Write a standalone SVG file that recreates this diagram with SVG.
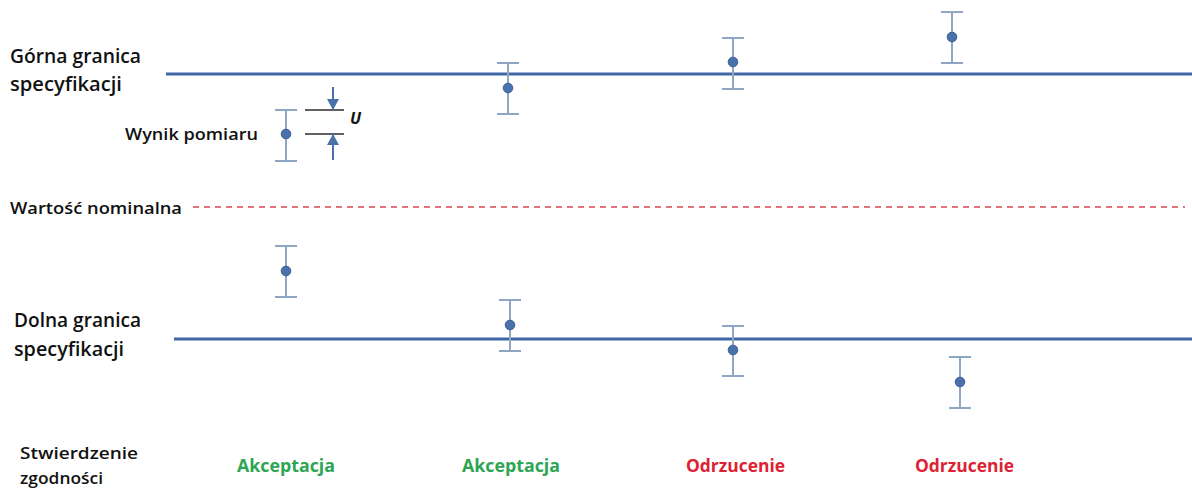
<svg xmlns="http://www.w3.org/2000/svg" width="1192" height="491" viewBox="0 0 1192 491">
<style>
.lbl{font-family:"Open Sans","Liberation Sans",sans-serif;font-weight:600;fill:#111}
.big{font-size:19.5px}
.sm{font-size:17px}
.lim{stroke:#3f67a6;stroke-width:3;fill:none}
.bar{stroke:#8fa6c4;stroke-width:2;fill:none}
.dot{fill:#4a71a9;stroke:#3a5f96;stroke-width:1}
.acc{font-family:"Open Sans","Liberation Sans",sans-serif;font-weight:700;font-size:17px;fill:#2ea552}
.rej{font-family:"Open Sans","Liberation Sans",sans-serif;font-weight:700;font-size:17px;fill:#dd2233}
.blk{stroke:#2a2a2a;stroke-width:1.6}
.arr{stroke:#4a71a9;stroke-width:2;marker-end:url(#ah)}
</style>
<defs>
<marker id="ah" viewBox="0 0 10 10" refX="10" refY="5" markerWidth="5.5" markerHeight="6" orient="auto" preserveAspectRatio="none">
<path d="M0,0 L10,5 L0,10 z" fill="#4a71a9"/>
</marker>
</defs>
<g id="limits">
<line id="usl" class="lim" x1="166" y1="74" x2="1192" y2="74"/>
<line id="lsl" class="lim" x1="174" y1="339" x2="1192" y2="339"/>
<line id="nominal" x1="193" y1="207" x2="1185" y2="207" stroke="#d9464f" stroke-width="1.5" stroke-dasharray="6,5"/>
</g>
<g id="labels">
<text class="lbl big" x="10" y="63" textLength="131" lengthAdjust="spacingAndGlyphs">Górna granica</text>
<text class="lbl big" x="10" y="91" textLength="112" lengthAdjust="spacingAndGlyphs">specyfikacji</text>
<text class="lbl sm" x="125" y="140" textLength="133" lengthAdjust="spacingAndGlyphs">Wynik pomiaru</text>
<text class="lbl sm" x="10" y="214" textLength="172" lengthAdjust="spacingAndGlyphs">Wartość nominalna</text>
<text class="lbl big" x="14" y="327" textLength="127" lengthAdjust="spacingAndGlyphs">Dolna granica</text>
<text class="lbl big" x="14" y="356" textLength="110" lengthAdjust="spacingAndGlyphs">specyfikacji</text>
<text class="lbl sm" x="20" y="459" textLength="118" lengthAdjust="spacingAndGlyphs">Stwierdzenie</text>
<text class="lbl sm" x="20" y="484" textLength="83" lengthAdjust="spacingAndGlyphs">zgodności</text>
</g>
<g id="bar-u1"><path class="bar" d="M275,110 H297 M286,110 V161 M275,161 H297"/><circle class="dot" cx="286" cy="134" r="4.8"/></g>
<g id="bar-l1"><path class="bar" d="M275,246 H297 M286,246 V297 M275,297 H297"/><circle class="dot" cx="286" cy="271" r="4.8"/></g>
<g id="bar-u2"><path class="bar" d="M497,63 H519 M508,63 V114 M497,114 H519"/><circle class="dot" cx="508" cy="88" r="4.8"/></g>
<g id="bar-l2"><path class="bar" d="M499,300 H521 M510,300 V351 M499,351 H521"/><circle class="dot" cx="510" cy="325" r="4.8"/></g>
<g id="bar-u3"><path class="bar" d="M722,38 H744 M733,38 V89 M722,89 H744"/><circle class="dot" cx="733" cy="62" r="4.8"/></g>
<g id="bar-l3"><path class="bar" d="M722,326 H744 M733,326 V376 M722,376 H744"/><circle class="dot" cx="733" cy="350" r="4.8"/></g>
<g id="bar-u4"><path class="bar" d="M941,12 H963 M952,12 V63 M941,63 H963"/><circle class="dot" cx="952" cy="37" r="4.8"/></g>
<g id="bar-l4"><path class="bar" d="M949,357 H971 M960,357 V408 M949,408 H971"/><circle class="dot" cx="960" cy="382" r="4.8"/></g>
<g id="u-marker">
<line class="blk" x1="305" y1="110" x2="344" y2="110"/>
<line class="blk" x1="305" y1="134" x2="344" y2="134"/>
<text x="350" y="124" font-family="Open Sans, Liberation Sans, sans-serif" font-weight="700" font-style="italic" font-size="16" fill="#111">U</text>
</g>
<g id="connectors">
<line class="arr" x1="333" y1="87" x2="333" y2="110"/>
<line class="arr" x1="333" y1="160" x2="333" y2="134"/>
</g>
<g id="verdicts">
<text class="acc" x="237" y="472" textLength="98" lengthAdjust="spacingAndGlyphs">Akceptacja</text>
<text class="acc" x="462" y="472" textLength="98" lengthAdjust="spacingAndGlyphs">Akceptacja</text>
<text class="rej" x="686" y="472" textLength="99" lengthAdjust="spacingAndGlyphs">Odrzucenie</text>
<text class="rej" x="915" y="472" textLength="99" lengthAdjust="spacingAndGlyphs">Odrzucenie</text>
</g>
</svg>
